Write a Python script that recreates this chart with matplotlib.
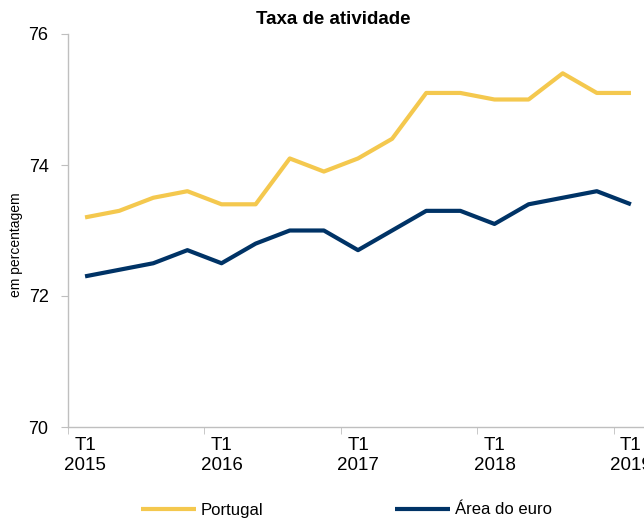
import matplotlib
matplotlib.use("Agg")
import matplotlib.pyplot as plt
import numpy as np

plt.rcParams['font.family'] = ['Liberation Sans', 'DejaVu Sans']

# quarterly data, T1 2015 .. T1 2019
quarters = ["T1\n2015", "", "", "", "T1\n2016", "", "", "", "T1\n2017", "", "", "",
            "T1\n2018", "", "", "", "T1\n2019"]
portugal = [73.2, 73.3, 73.5, 73.6, 73.4, 73.4, 74.1, 73.9, 74.1, 74.4, 75.1, 75.1,
            75.0, 75.0, 75.4, 75.1, 75.1]
euro = [72.3, 72.4, 72.5, 72.7, 72.5, 72.8, 73.0, 73.0, 72.7, 73.0, 73.3, 73.3,
        73.1, 73.4, 73.5, 73.6, 73.4]
yticks = [70, 72, 74, 76]

W, H = 644, 519
fig = plt.figure(figsize=(W / 100, H / 100), dpi=100)
ax = fig.add_axes([68 / W, (H - 427) / H, (648 - 68) / W, (427 - 34) / H])

x = np.arange(len(quarters))
ax.plot(x, portugal, color="#F4C84E", lw=3, label="Portugal", solid_capstyle="butt")
ax.plot(x, euro, color="#003366", lw=3, label="Área do euro", solid_capstyle="butt")

ax.set_xlim(-0.5, len(quarters) - 0.5)
ax.set_ylim(70, 76)
ax.set_yticks(yticks)
ax.tick_params(axis="y", labelsize=13, length=5, color="#BFBFBF", pad=9)

# labels on the categories, tick marks between them
lab_idx = [i for i, q in enumerate(quarters) if q]
ax.set_xticks(lab_idx)
ax.set_xticklabels([quarters[i] for i in lab_idx], fontsize=13.5, linespacing=1.25)
ax.tick_params(axis="x", which="major", length=0, pad=7)
ax.set_xticks([i - 0.5 for i in lab_idx], minor=True)
ax.tick_params(axis="x", which="minor", length=5, color="#BFBFBF")

for s in ["top", "right"]:
    ax.spines[s].set_visible(False)
for s in ["left", "bottom"]:
    ax.spines[s].set_color("#BFBFBF")
    ax.spines[s].set_linewidth(1)

fig.text(333 / W, 1 - 19 / H, "Taxa de atividade", ha="center", va="center",
         fontsize=13.5, fontweight="bold")
fig.text(16 / W, 1 - 245 / H, "em percentagem", rotation=90, ha="center", va="center",
         fontsize=10)

fig.legend(loc="center left", bbox_to_anchor=(126 / W, 1 - 510 / H), ncol=2, frameon=False,
           fontsize=12, handlelength=3.3, handletextpad=0.3, columnspacing=7.9)

fig.savefig("out.png", dpi=100)
